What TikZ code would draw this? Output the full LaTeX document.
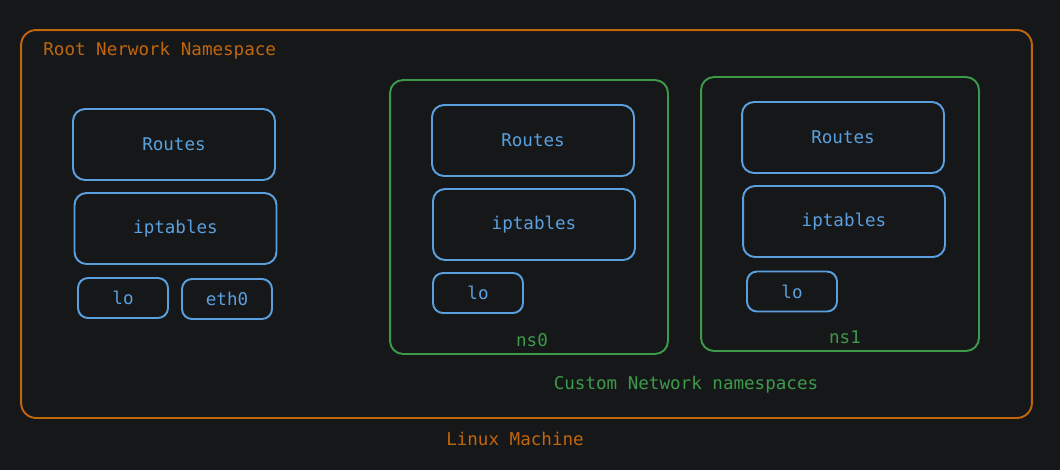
\documentclass[tikz,border=0pt]{standalone}
\usepackage{fontspec}
\setmonofont{DejaVu Sans Mono}
\usetikzlibrary{positioning}
\definecolor{bgdark}{HTML}{161719}
\definecolor{hostorange}{HTML}{C2660E}
\definecolor{ifblue}{HTML}{5AA0DE}
\definecolor{nsgreen}{HTML}{3C9A4A}
\begin{document}
\begin{tikzpicture}[x=0.02cm, y=-0.02cm,
    every node/.style={font=\ttfamily\fontsize{10}{12}\selectfont},
    tablebox/.style={draw=ifblue, line width=1.1pt, rounded corners=0.24cm,
      text=ifblue, minimum width=4.04cm, minimum height=1.42cm},
    ifbox/.style={draw=ifblue, line width=1.1pt, rounded corners=0.2cm,
      text=ifblue, minimum width=1.8cm, minimum height=0.8cm},
    nsbox/.style={draw=nsgreen, line width=1.1pt, rounded corners=0.26cm,
      minimum width=5.56cm, minimum height=5.48cm}]
  % background
  \fill[bgdark] (0,0) rectangle (1060,470);
  \useasboundingbox (0,0) rectangle (1060,470);
  % linux machine
  \node[draw=hostorange, line width=1.1pt, rounded corners=0.3cm,
    minimum width=20.22cm, minimum height=7.76cm] (host) at (526.5,224) {};
  \node[text=hostorange, anchor=west, inner sep=0pt] (rootlabel) at (43,51) {Root Nerwork Namespace};
  \node[text=hostorange] (hostlabel) at (515,439) {Linux Machine};
  % root namespace
  \node[tablebox] (rootroutes) at (174,144.5) {Routes};
  \node[tablebox] (rootipt) at (175.5,228.5) {iptables};
  \node[ifbox] (rootlo) at (123,298) {lo};
  \node[ifbox] (rooteth) at (227,299) {eth0};
  % ns0
  \node[nsbox] (nszero) at (529,217) {};
  \node[tablebox] (zeroroutes) at (533,140.5) {Routes};
  \node[tablebox] (zeroipt) at (534,224.5) {iptables};
  \node[ifbox] (zerolo) at (478,293) {lo};
  \node[text=nsgreen] (zerolabel) at (532,340) {ns0};
  % ns1
  \node[nsbox] (nsone) at (840,214) {};
  \node[tablebox] (oneroutes) at (843,137.5) {Routes};
  \node[tablebox] (oneipt) at (844,221.5) {iptables};
  \node[ifbox] (onelo) at (792,291.5) {lo};
  \node[text=nsgreen] (onelabel) at (845,337) {ns1};
  \node[text=nsgreen] (customlabel) at (686,385) {Custom Network namespaces};
\end{tikzpicture}
\end{document}
